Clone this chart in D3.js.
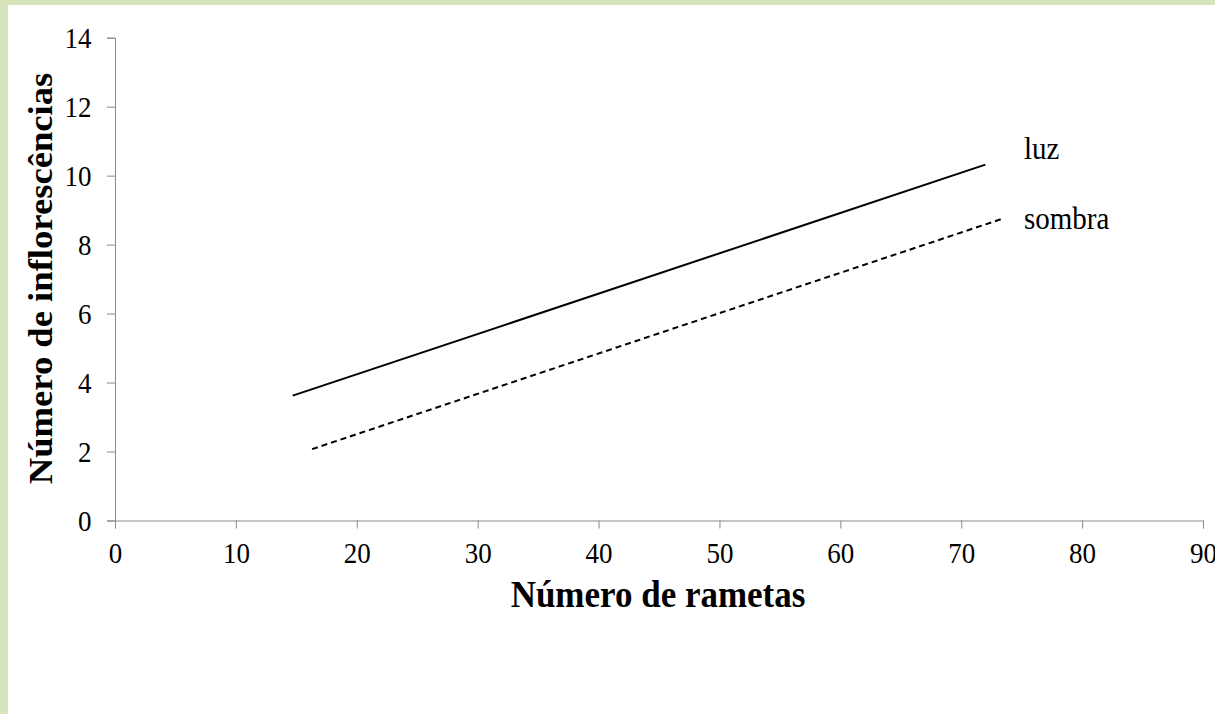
<!DOCTYPE html>
<html>
<head>
<meta charset="utf-8">
<script src="https://cdn.jsdelivr.net/npm/d3@7"></script>
<style>
  html, body { margin: 0; padding: 0; background: #fff; }
  svg { display: block; }
  text { font-family: "Liberation Serif", "Times New Roman", serif; fill: #000; }
</style>
</head>
<body>
<svg id="chart" width="1215" height="714"></svg>
<script>
// Fitted trend lines: number of inflorescences vs. number of ramets
const seriesNames = ["luz", "sombra"];
const luzX = [14.7, 72.0];
const luzY = [3.62, 10.32];
const sombraX = [16.3, 73.4];
const sombraY = [2.07, 8.75];
const xTicks = [0, 10, 20, 30, 40, 50, 60, 70, 80, 90];
const yTicks = [0, 2, 4, 6, 8, 10, 12, 14];
const xTitle = "Número de rametas";
const yTitle = "Número de inflorescências";

const W = 1215, H = 714;
const stretch = 1.09;
const serif = '"Liberation Serif", "Times New Roman", serif';
const svg = d3.select("#chart");

// background and frame bands
svg.append("rect").attr("width", W).attr("height", H).attr("fill", "#fff");
svg.append("rect").attr("x", 0).attr("y", 0).attr("width", 8).attr("height", H).attr("fill", "#D8E4BC");
svg.append("rect").attr("x", 0).attr("y", 0).attr("width", W).attr("height", 5).attr("fill", "#D8E4BC");

const x = d3.scaleLinear().domain([0, 90]).range([115, 1203]);
const y = d3.scaleLinear().domain([0, 14]).range([520.5, 37.7]);

const axisColor = "#8a8a8a";

// x axis
const gx = svg.append("g")
  .attr("transform", `translate(0,${y(0)})`)
  .call(d3.axisBottom(x).tickValues(xTicks).tickSize(8).tickSizeOuter(8).tickFormat(d3.format("d")));
gx.attr("font-family", null).attr("font-size", null);
gx.selectAll("path, line").attr("stroke", axisColor).attr("stroke-width", 1);
gx.selectAll("text")
  .attr("y", null).attr("dy", null)
  .style("font-size", "27px")
  .style("font-family", serif)
  .attr("fill", "#000")
  .attr("transform", `translate(0,42) scale(1,${stretch})`);

// y axis
const gy = svg.append("g")
  .attr("transform", `translate(${x(0)},0)`)
  .call(d3.axisLeft(y).tickValues(yTicks).tickSize(8).tickSizeOuter(8).tickFormat(d3.format("d")));
gy.attr("font-family", null).attr("font-size", null);
gy.selectAll("path, line").attr("stroke", axisColor).attr("stroke-width", 1);
gy.selectAll("text")
  .attr("x", null).attr("dy", null)
  .attr("text-anchor", "end")
  .style("font-size", "27px")
  .style("font-family", serif)
  .attr("fill", "#000")
  .attr("transform", `translate(-23.5,9.5) scale(1,${stretch})`);

// trend lines
const line = d3.line().x(d => x(d[0])).y(d => y(d[1]));
const luzPts = d3.zip(luzX, luzY);
const sombraPts = d3.zip(sombraX, sombraY);

svg.append("path").datum(luzPts)
  .attr("d", line).attr("fill", "none")
  .attr("stroke", "#000").attr("stroke-width", 2);

svg.append("path").datum(sombraPts)
  .attr("d", line).attr("fill", "none")
  .attr("stroke", "#000").attr("stroke-width", 2)
  .attr("stroke-dasharray", "6,4");

// series labels beside the line ends
const labelPos = [[1024, 158.5], [1024, 229]];
seriesNames.forEach((name, i) => {
  svg.append("text")
    .attr("transform", `translate(${labelPos[i][0]},${labelPos[i][1]}) scale(1,${stretch})`)
    .style("font-size", "29px")
    .text(name);
});

// axis titles
svg.append("text")
  .attr("transform", `translate(658,606.5) scale(1,${stretch})`)
  .attr("text-anchor", "middle")
  .style("font-size", "35px")
  .style("font-weight", "bold")
  .text(xTitle);

svg.append("text")
  .attr("transform", `translate(51.5,278.5) rotate(-90) scale(${stretch},1)`)
  .attr("text-anchor", "middle")
  .style("font-size", "33.6px")
  .style("font-weight", "bold")
  .text(yTitle);
</script>
</body>
</html>
